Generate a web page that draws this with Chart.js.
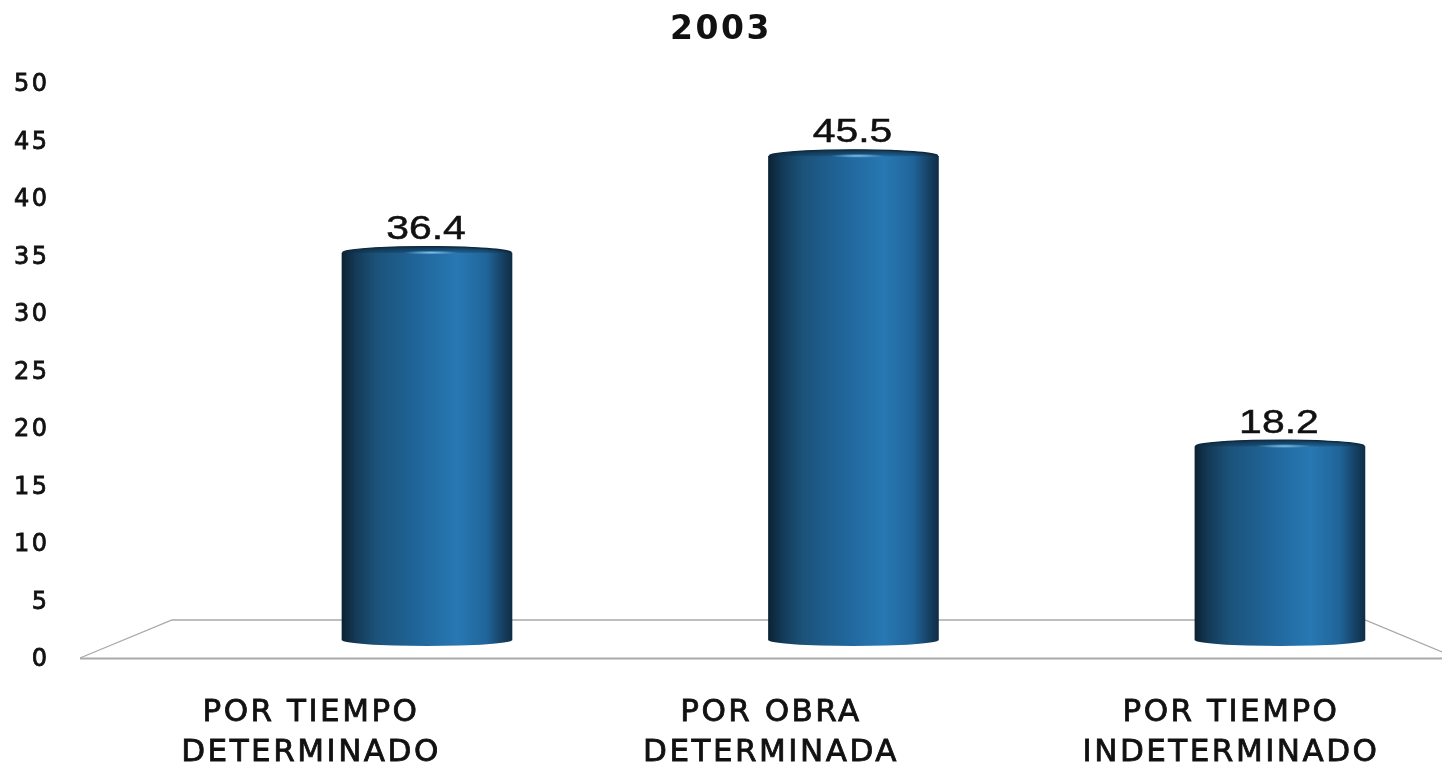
<!DOCTYPE html>
<html>
<head>
<meta charset="utf-8">
<style>html,body{margin:0;padding:0;background:#fff}canvas{display:block;filter:blur(0.6px)}</style>
<script src="https://cdn.jsdelivr.net/npm/chart.js@4/dist/chart.umd.min.js"></script>
</head>
<body>
<canvas id="c" width="1442" height="763"></canvas>
<script>
const chartTitle = "2003";
const categories = [["POR TIEMPO","DETERMINADO"],["POR OBRA","DETERMINADA"],["POR TIEMPO","INDETERMINADO"]];
const values = [36.4, 45.5, 18.2];
const axisTop = 50, axisStep = 5;

const barWidth = 170;
function barGradient(c, x){
  const g = c.createLinearGradient(x-barWidth/2,0,x+barWidth/2,0);
  g.addColorStop(0,'#0c2233');
  g.addColorStop(0.08,'#133a57');
  g.addColorStop(0.2,'#1b5279');
  g.addColorStop(0.45,'#20669b');
  g.addColorStop(0.68,'#2878b3');
  g.addColorStop(0.85,'#20659a');
  g.addColorStop(0.95,'#153f60');
  g.addColorStop(1,'#0f2d45');
  return g;
}
const cylinderPlugin = {
  id:'cylinder',
  beforeDraw(chart){ chart.ctx.letterSpacing='2.5px'; },
  beforeDatasetsDraw(chart){
    const {ctx,chartArea:a}=chart;
    ctx.save();
    ctx.strokeStyle='#a9a9a9';
    ctx.lineWidth=1.3;
    ctx.beginPath();
    ctx.moveTo(a.left,a.bottom);
    ctx.lineTo(a.left+92,a.bottom-38);
    ctx.lineTo(a.right-77,a.bottom-38);
    ctx.lineTo(a.right,a.bottom-6);
    ctx.stroke();
    ctx.lineWidth=2;
    ctx.beginPath();
    ctx.moveTo(a.left,a.bottom+0.5);
    ctx.lineTo(a.right,a.bottom+0.5);
    ctx.stroke();
    ctx.restore();
  },
  afterDatasetsDraw(chart){
    const {ctx}=chart;
    const meta=chart.getDatasetMeta(0);
    meta.data.forEach((el,i)=>{
      const {x,y,base,width}=el.getProps(['x','y','base','width'],true);
      const rx=width/2;
      ctx.save();
      // bottom curve
      ctx.fillStyle=barGradient(ctx,x);
      ctx.beginPath();
      ctx.ellipse(x,base,rx,6,0,0,Math.PI);
      ctx.fill();
      // top cap continues the body colour
      ctx.beginPath();
      ctx.ellipse(x,y,rx,6.5,0,0,Math.PI*2);
      ctx.fill();
      // shaded band under the top rim
      const v=ctx.createLinearGradient(0,y-6.5,0,y+2);
      v.addColorStop(0,'rgba(12,38,58,0.85)');
      v.addColorStop(1,'rgba(12,38,58,0)');
      ctx.fillStyle=v;
      ctx.beginPath();
      ctx.ellipse(x,y,rx,6.5,0,Math.PI,Math.PI*2);
      ctx.fill();
      ctx.strokeStyle='#0e2b42';
      ctx.lineWidth=1.3;
      ctx.beginPath();
      ctx.ellipse(x,y,rx,6.5,0,Math.PI*1.04,Math.PI*1.96);
      ctx.stroke();
      // highlight on the cap
      const h=ctx.createRadialGradient(0,0,0,0,0,1);
      h.addColorStop(0,'rgba(130,200,240,0.95)');
      h.addColorStop(1,'rgba(130,200,240,0)');
      ctx.translate(x+4,y-0.5);
      ctx.scale(28,2);
      ctx.fillStyle=h;
      ctx.beginPath();
      ctx.arc(0,0,1,0,Math.PI*2);
      ctx.fill();
      ctx.restore();
      // value label, horizontally stretched like the source image
      ctx.save();
      ctx.letterSpacing='0px';
      ctx.translate(x-1,y-23);
      ctx.scale(1.24,1);
      ctx.font='33px "Liberation Sans"';
      ctx.fillStyle='#111';
      ctx.strokeStyle='#111';
      ctx.lineWidth=0.5;
      ctx.textAlign='center';
      ctx.textBaseline='middle';
      ctx.fillText(values[i].toFixed(1),0,0);
      ctx.strokeText(values[i].toFixed(1),0,0);
      ctx.restore();
    });
  }
};

new Chart(document.getElementById('c'),{
  type:'bar',
  data:{
    datasets:[{
      data:values.map((v,i)=>({x:i,y:v})),
      xAxisID:'xBar',
      yAxisID:'yBar',
      barThickness:barWidth,
      borderWidth:0,
      backgroundColor(ctx){
        const s=ctx.chart.scales.xBar;
        const px=s&&ctx.dataIndex!==undefined?s.getPixelForValue(ctx.dataIndex):NaN;
        if(!Number.isFinite(px)) return '#20669b';
        return barGradient(ctx.chart.ctx,px);
      }
    }]
  },
  plugins:[cylinderPlugin],
  options:{
    responsive:false,
    animation:false,
    layout:{padding:0},
    plugins:{
      legend:{display:false},
      tooltip:{enabled:false},
      title:{display:true,text:chartTitle,color:'#111',
        font:{family:'"DejaVu Sans"',size:33,weight:'bold',lineHeight:1.2},
        padding:{top:10.2,bottom:33.2}}
    },
    scales:{
      xBar:{type:'linear',display:false,offset:false,bounds:'data',min:-0.8136,max:2.38},
      yBar:{type:'linear',display:false,bounds:'data',position:'left',min:-1.69,max:52.4},
      x:{type:'linear',position:'bottom',offset:false,bounds:'data',min:-0.5022,max:2.4587,
        afterBuildTicks(ax){ax.ticks=categories.map((_,i)=>({value:i}));},
        afterFit(ax){ax.height=105;},
        grid:{display:false,offset:false},border:{display:false},
        ticks:{autoSkip:false,maxRotation:0,padding:27,color:'#111',
          textStrokeColor:'#111',textStrokeWidth:0.8,
          font:{family:'"DejaVu Sans"',size:31,lineHeight:1.29},
          callback(v){return categories[v];}}
      },
      y:{type:'linear',position:'left',min:0,max:axisTop,
        afterFit(ax){ax.width=80;},
        grid:{display:false},border:{display:false},
        ticks:{stepSize:axisStep,padding:22.5,color:'#111',labelOffset:2,
          textStrokeColor:'#111',textStrokeWidth:0.8,
          font:{family:'"DejaVu Sans"',size:24}}
      }
    }
  }
});
</script>
</body>
</html>
